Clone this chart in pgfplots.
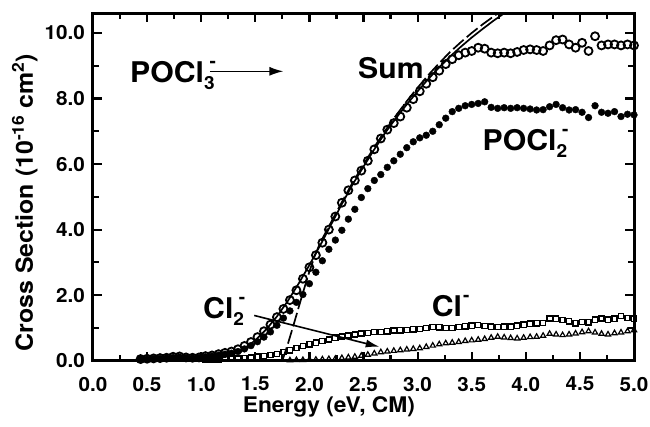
\documentclass[border=0pt]{standalone}
\usepackage{fontspec}
\setmainfont{TeX Gyre Heros}[FakeStretch=1.06]
\usepackage{pgfplots}
\pgfplotsset{compat=1.18}
\usetikzlibrary{arrows.meta}
\newcommand{\ann}{\fontsize{28.5}{29}\selectfont\bfseries}
\newcommand{\sbs}[1]{\makebox[0pt][l]{\raisebox{-7pt}{\fontsize{18}{18}\selectfont\bfseries #1}}}
\newcommand{\smin}{\raisebox{15pt}{\fontsize{18}{18}\selectfont\bfseries -}}
\begin{document}
\begin{tikzpicture}
\path[use as bounding box] (-93pt,-65.3pt) rectangle (557pt,360.7pt);
\begin{axis}[
 at={(0,0)}, anchor=south west,
 scale only axis, width=541pt, height=347.4pt,
 xmin=0, xmax=5, ymin=0, ymax=10.6,
 xtick={0,0.5,1,1.5,2,2.5,3,3.5,4,4.5,5},
 ytick={0,2,4,6,8,10},
 minor x tick num=1, minor y tick num=1,
 tick align=inside, xtick pos=both, ytick pos=both,
 major tick length=9pt, minor tick length=6pt,
 axis line style={line width=3pt},
 every tick/.style={line width=2.2pt, black},
 axis on top,
 /pgf/number format/.cd, fixed, fixed zerofill, precision=1, assume math mode=true, /pgfplots/.cd,
 tick label style={font=\fontsize{19.5}{20}\selectfont\bfseries},
 xticklabel style={inner sep=0pt, anchor=north, yshift=-16pt},
 yticklabel style={inner sep=0pt, anchor=east, xshift=-8pt},
 xlabel={Energy (eV, CM)},
 xlabel style={at={(axis description cs:0.436,0)}, anchor=base, yshift=-51.5pt, inner sep=0pt, font=\fontsize{21.5}{22}\selectfont\bfseries},
 ylabel={Cross Section (10\textsuperscript{-16} cm\textsuperscript{2})},
 ylabel style={at={(axis description cs:-0.111,0.455)}, anchor=base, inner sep=0pt, font=\fontsize{23.5}{24}\selectfont\bfseries},
]
% solid fit
\addplot[black, line width=1.7pt, no marks] coordinates {
(1.00,0.02) (1.10,0.05) (1.20,0.10) (1.30,0.20) (1.40,0.38) (1.50,0.62) (1.60,0.95) (1.70,1.35) (1.80,1.82) (1.90,2.35) (2.00,2.92) (2.10,3.52) (2.20,4.15) (2.30,4.78) (2.40,5.38) (2.50,5.92) (2.60,6.45) (2.70,6.95) (2.80,7.40) (2.90,7.82) (3.00,8.22) (3.10,8.60) (3.20,8.95) (3.30,9.28) (3.40,9.58) (3.50,9.86) (3.60,10.12) (3.70,10.37) (3.80,10.60) (3.82,10.65)};
% dashed fit
\addplot[black, line width=1.7pt, no marks, dash pattern=on 14pt off 4pt] coordinates {
(1.75,0) (1.80,0.50) (1.85,1.05) (1.90,1.62) (1.95,2.18) (2.00,2.72) (2.05,3.20) (2.10,3.60) (2.20,4.22) (2.30,4.84) (2.40,5.44) (2.50,5.98) (2.60,6.52) (2.70,7.02) (2.80,7.48) (2.90,7.92) (3.00,8.33) (3.10,8.72) (3.20,9.08) (3.30,9.42) (3.40,9.72) (3.50,10.00) (3.60,10.26) (3.70,10.50) (3.76,10.64)};
% POCl2- filled
\addplot[only marks, mark=*, mark size=3.4pt, black] coordinates {
(0.44,0.05) (0.50,0.05) (0.56,0.06) (0.62,0.07) (0.68,0.08) (0.74,0.10) (0.80,0.11) (0.86,0.09) (0.92,0.08) (0.98,0.09)
(1.04,0.12) (1.10,0.14) (1.16,0.17) (1.22,0.20) (1.28,0.23) (1.34,0.28) (1.40,0.36) (1.46,0.46) (1.52,0.58) (1.58,0.72)
(1.64,0.88) (1.70,1.08) (1.76,1.30) (1.82,1.52) (1.88,1.78) (1.94,2.02) (2.00,2.35) (2.06,2.70) (2.12,3.05) (2.18,3.40)
(2.24,3.68) (2.30,3.98) (2.36,4.32) (2.42,4.62) (2.48,4.98) (2.54,5.25) (2.60,5.50) (2.66,5.68) (2.72,5.90) (2.78,6.10)
(2.84,6.30) (2.90,6.50) (2.96,6.68) (3.02,6.80) (3.08,6.88) (3.14,7.00) (3.20,7.20) (3.26,7.40) (3.32,7.60) (3.38,7.70)
(3.44,7.78) (3.50,7.82) (3.56,7.85) (3.62,7.90) (3.68,7.73) (3.74,7.70) (3.80,7.72) (3.86,7.70) (3.92,7.72) (3.98,7.70)
(4.04,7.68) (4.10,7.65) (4.16,7.66) (4.22,7.75) (4.28,7.82) (4.34,7.72) (4.40,7.65) (4.46,7.66) (4.52,7.58) (4.58,7.42)
(4.64,7.78) (4.70,7.58) (4.76,7.55) (4.82,7.60) (4.88,7.45) (4.94,7.52) (5.00,7.50)};
% Sum open circles
\addplot[only marks, mark=o, mark size=4pt, mark options={line width=1.8pt}, black] coordinates {
(0.44,0.05) (0.50,0.06) (0.56,0.07) (0.62,0.08) (0.68,0.09) (0.74,0.12) (0.80,0.13) (0.86,0.10) (0.92,0.09) (0.98,0.10)
(1.04,0.14) (1.10,0.16) (1.16,0.20) (1.22,0.24) (1.28,0.28) (1.34,0.35) (1.40,0.45) (1.46,0.57) (1.52,0.72) (1.58,0.90)
(1.64,1.10) (1.70,1.33) (1.76,1.58) (1.82,1.85) (1.88,2.15) (1.94,2.50) (2.00,2.85) (2.06,3.22) (2.12,3.60) (2.18,4.00)
(2.24,4.40) (2.30,4.82) (2.36,5.20) (2.42,5.50) (2.48,5.80) (2.54,6.10) (2.60,6.45) (2.66,6.78) (2.72,7.05) (2.78,7.25)
(2.84,7.45) (2.90,7.72) (2.96,7.98) (3.02,8.22) (3.08,8.45) (3.14,8.65) (3.20,8.85) (3.26,9.05) (3.32,9.20) (3.38,9.32)
(3.44,9.40) (3.50,9.45) (3.56,9.55) (3.62,9.52) (3.68,9.40) (3.74,9.38) (3.80,9.40) (3.86,9.38) (3.92,9.42) (3.98,9.48)
(4.04,9.50) (4.10,9.48) (4.16,9.45) (4.22,9.62) (4.28,9.78) (4.34,9.80) (4.40,9.65) (4.46,9.55) (4.52,9.70) (4.58,9.45)
(4.64,9.90) (4.70,9.62) (4.76,9.65) (4.82,9.65) (4.88,9.62) (4.94,9.65) (5.00,9.62)};
% Cl- open squares
\addplot[only marks, mark=square, mark size=2.6pt, mark options={line width=1.4pt}, black] coordinates {
(1.04,0.03) (1.10,0.04) (1.16,0.04) (1.22,0.05) (1.28,0.06) (1.34,0.07) (1.40,0.08) (1.46,0.10) (1.52,0.12) (1.58,0.14)
(1.64,0.17) (1.70,0.21) (1.76,0.26) (1.82,0.32) (1.88,0.39) (1.94,0.45) (2.00,0.50) (2.06,0.55) (2.12,0.60) (2.18,0.65)
(2.24,0.70) (2.30,0.74) (2.36,0.77) (2.42,0.80) (2.48,0.83) (2.54,0.85) (2.60,0.87) (2.66,0.88) (2.72,0.90) (2.78,0.92)
(2.84,0.93) (2.90,0.94) (2.96,0.96) (3.02,0.97) (3.08,1.00) (3.14,1.03) (3.20,1.02) (3.26,1.00) (3.32,1.00) (3.38,1.03)
(3.44,1.05) (3.50,1.07) (3.56,1.09) (3.62,1.06) (3.68,1.04) (3.74,1.03) (3.80,1.04) (3.86,1.04) (3.92,1.07) (3.98,1.10)
(4.04,1.13) (4.10,1.14) (4.16,1.15) (4.22,1.29) (4.28,1.28) (4.34,1.24) (4.40,1.20) (4.46,1.14) (4.52,1.18) (4.58,1.17)
(4.64,1.25) (4.70,1.29) (4.76,1.25) (4.82,1.28) (4.88,1.36) (4.94,1.30) (5.00,1.28)};
% Cl2- open triangles
\addplot[only marks, mark=triangle, mark size=3pt, mark options={line width=1.2pt}, black] coordinates {
(1.82,0.01) (1.88,0.02) (1.94,0.02) (2.00,0.03) (2.06,0.03) (2.12,0.04) (2.18,0.05) (2.24,0.06) (2.30,0.08) (2.36,0.10)
(2.42,0.12) (2.48,0.15) (2.54,0.18) (2.60,0.22) (2.66,0.26) (2.72,0.28) (2.78,0.30) (2.84,0.32) (2.90,0.34) (2.96,0.36)
(3.02,0.38) (3.08,0.42) (3.14,0.46) (3.20,0.50) (3.26,0.53) (3.32,0.55) (3.38,0.57) (3.44,0.60) (3.50,0.62) (3.56,0.64)
(3.62,0.66) (3.68,0.70) (3.74,0.73) (3.80,0.71) (3.86,0.69) (3.92,0.68) (3.98,0.70) (4.04,0.72) (4.10,0.73) (4.16,0.76)
(4.22,0.82) (4.28,0.80) (4.34,0.78) (4.40,0.80) (4.46,0.83) (4.52,0.87) (4.58,0.90) (4.64,0.86) (4.70,0.82) (4.76,0.80)
(4.82,0.84) (4.88,0.86) (4.94,0.90) (5.00,0.93)};
% annotations
\node[anchor=base west, inner sep=0pt, font=\ann] at (axis cs:0.342,8.49) {POCl\sbs{3}\hspace{5.5pt}\smin};
\draw[line width=1.6pt, -{Latex[length=14pt,width=9pt]}] (axis cs:1.08,8.83) -- (axis cs:1.76,8.83);
\node[anchor=base west, inner sep=0pt, font=\ann] at (axis cs:2.449,8.60) {Sum};
\node[anchor=base west, inner sep=0pt, font=\ann] at (axis cs:3.60,6.41) {POCl\sbs{2}\hspace{5.5pt}\smin};
\node[anchor=base west, inner sep=0pt, font=\ann] at (axis cs:1.017,1.29) {Cl\sbs{2}\hspace{5.5pt}\smin};
\draw[line width=1.6pt, -{Latex[length=14pt,width=8pt]}] (axis cs:1.49,1.38) -- (axis cs:2.65,0.42);
\node[anchor=base west, inner sep=0pt, font=\ann] at (axis cs:3.13,1.34) {Cl\hspace{1pt}\smin};
\end{axis}
\end{tikzpicture}
\end{document}
